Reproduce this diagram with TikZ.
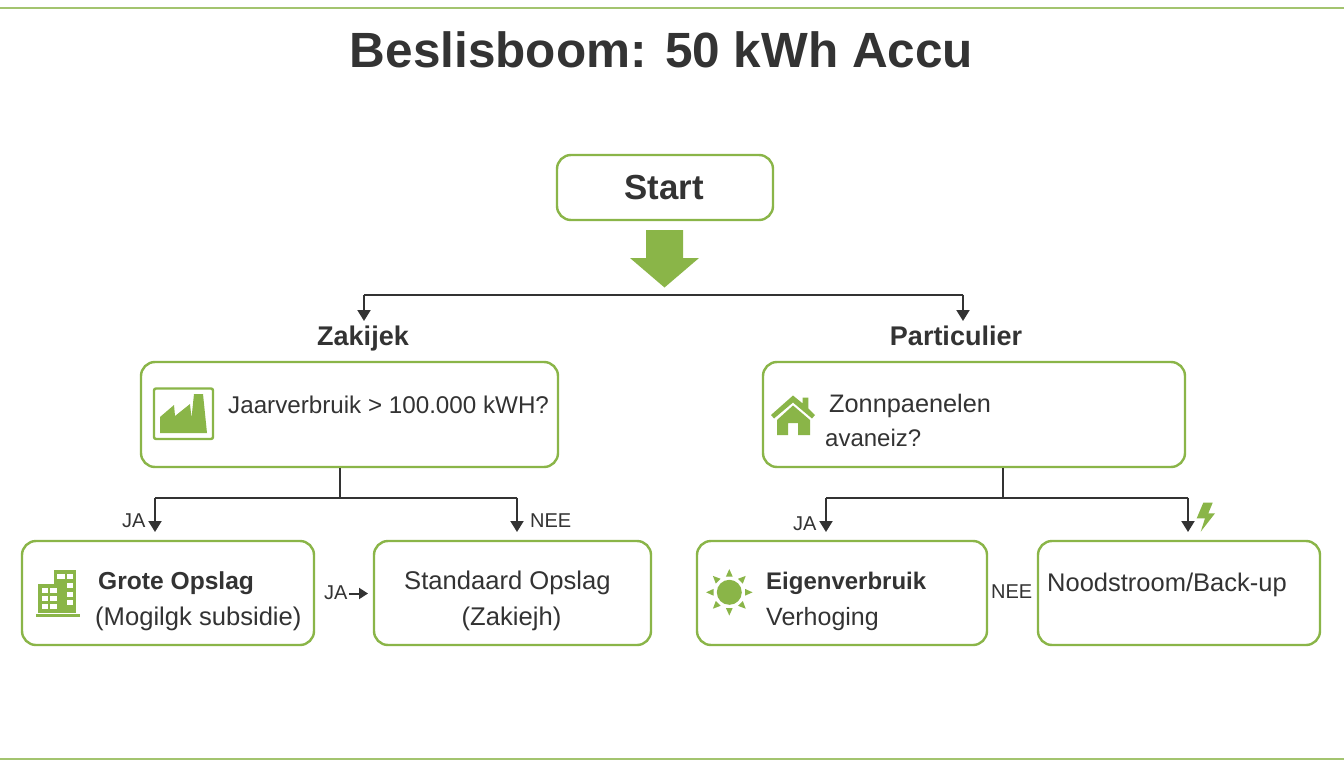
\documentclass[tikz,border=0pt]{standalone}
\usepackage{fontspec}
\setmainfont{Liberation Sans}
\usetikzlibrary{arrows.meta}
\definecolor{leaf}{HTML}{8AB548}
\definecolor{rulegreen}{HTML}{A3C46F}
\definecolor{ink}{HTML}{333333}
\newcommand{\fs}[1]{\fontsize{#1}{#1}\selectfont}
\tikzset{
  box/.style={draw=leaf,line width=2.4pt,rounded corners=14pt,fill=white,inner sep=0pt,text=ink},
  label/.style={inner sep=0pt,anchor=base west,text=ink,font=\fs{24}},
  wlabel/.style={inner sep=0pt,anchor=base west,text=ink,font=\fs{25.6}},
  blabel/.style={inner sep=0pt,anchor=base west,text=ink,font=\fs{24.6}\bfseries},
  head/.style={inner sep=0pt,anchor=base,text=ink,font=\fs{27}\bfseries},
  small/.style={inner sep=0pt,anchor=base west,text=ink,font=\fs{20}},
  wire/.style={draw=ink,line width=2pt},
  arrowwire/.style={wire,-{Triangle[length=11pt,width=13pt]}},
  icon/.style={fill=leaf,draw=none},
  hole/.style={fill=white,draw=none},
  rulebar/.style={draw=rulegreen,line width=2.6pt}
}
\begin{document}
\begin{tikzpicture}[x=1pt,y=-1pt]
\useasboundingbox (0,0) rectangle (1344,768);
\fill[white] (0,0) rectangle (1344,768);
\coordinate (tl) at (0,8); \coordinate (tr) at (1344,8);
\coordinate (bl) at (0,759); \coordinate (br) at (1344,759);
\draw[rulebar] (tl) -- (tr);
\draw[rulebar] (bl) -- (br);

\node[inner sep=0pt,anchor=base,text=ink,font=\fs{49.5}\bfseries] (title) at (661.5,68) {Beslisboom: 50 kWh Accu};

% boxes
\node[box,minimum width=216pt,minimum height=65pt,font=\fs{34.8}\bfseries] (start) at (665,187.5) {\kern-2pt Start};
\node[box,minimum width=417pt,minimum height=105pt] (zak) at (349.5,414.5) {};
\node[box,minimum width=422pt,minimum height=105pt] (par) at (974,414.5) {};
\node[box,minimum width=292pt,minimum height=104pt] (grote) at (168,593) {};
\node[box,minimum width=277pt,minimum height=104pt] (stand) at (512.5,593) {};
\node[box,minimum width=290pt,minimum height=104pt] (eigen) at (842,593) {};
\node[box,minimum width=282pt,minimum height=104pt] (nood) at (1179,593) {};

% big arrow
\fill[leaf] (646,230) -- (683,230) -- (683,258) -- (699,258) -- (664.5,287.5) -- (630,258) -- (646,258) -- cycle;

% headings
\node[head] (hzak) at (363,345.5) {Zakijek};
\node[head] (hpar) at (956,345.5) {Particulier};

% texts
\node[label,font=\fs{24.2}] (t1) at (228,413) {Jaarverbruik > 100.000 kWH?};
\node[wlabel,font=\fs{25.3}] (t2) at (829,412) {Zonnpaenelen};
\node[label] (t3) at (825,446) {avaneiz?};
\node[blabel] (t4) at (98,589) {Grote Opslag};
\node[wlabel] (t5) at (95,625) {(Mogilgk subsidie)};
\node[wlabel] (t6) at (404,589) {Standaard Opslag};
\node[wlabel,anchor=base] (t7) at (511.5,625) {(Zakiejh)};
\node[blabel,font=\fs{24}\bfseries] (t8) at (766,589) {Eigenverbruik};
\node[label,font=\fs{25}] (t9) at (766,625) {Verhoging};
\node[wlabel,font=\fs{25.5}] (t10) at (1047,591) {Noodstroom/Back-up};

% small labels
\node[small] (l1) at (122,527) {JA};
\node[small] (l2) at (530,527) {NEE};
\node[small] (l3) at (324,599) {JA};
\node[small] (l4) at (793,530) {JA};
\node[small] (l5) at (991,598) {NEE};

% connectors
\coordinate (busL) at (364,294.5);
\coordinate (busR) at (963,294.5);
\coordinate (endL) at (364,321);
\coordinate (endR) at (963,321);
\draw[wire] (busL) -- (busR);
\draw[arrowwire] (busL) -- (endL);
\draw[arrowwire] (busR) -- (endR);

\coordinate (zj) at (340,497.5);
\coordinate (zl) at (155,497.5);
\coordinate (zr) at (517,497.5);
\draw[wire] (zak.south -| zj) -- (zj);
\draw[wire] (zl) -- (zr);
\draw[arrowwire] (zl) -- (155,532);
\draw[arrowwire] (zr) -- (517,532);

\coordinate (pj) at (1003,497.5);
\coordinate (pl) at (826,497.5);
\coordinate (pr) at (1188,497.5);
\draw[wire] (par.south -| pj) -- (pj);
\draw[wire] (pl) -- (pr);
\draw[arrowwire] (pl) -- (826,532);
\draw[arrowwire] (pr) -- (1188,532);

\coordinate (ja1) at (349,593.5);
\coordinate (ja2) at (368,593.5);
\draw[wire,-{Triangle[length=9pt,width=11pt]}] (ja1) -- (ja2);

% factory icon
\draw[draw=leaf,line width=2.4pt,rounded corners=2pt] (154,388.5) rectangle (213,439);
\fill[icon] (160,417) -- (174,405) -- (175,416) -- (190,404) -- (191.5,418) -- (194,394) -- (203,394) -- (207,433) -- (160,433) -- cycle;

% building icon
\fill[icon] (38,584) rectangle (60,613);
\fill[icon] (54,570) rectangle (76,613);
\fill[icon] (36,614) rectangle (80,616.5);
\foreach \x in {41.7,50}{\foreach \y in {588,596,604}{\fill[hole] (\x,\y) rectangle ++(6.5,5);}}
\foreach \y in {574,582.5,591.5,599.5}{\fill[hole] (66.7,\y) rectangle ++(6.3,5);}
\fill[hole] (57,574) rectangle ++(8,5);

% sun icon
\fill[icon] (729.3,592.3) circle (12.5);
\foreach \a in {0,45,...,315}{
  \fill[icon,rotate around={\a:(729.3,592.3)}] (745,588.9) -- (752.5,592.3) -- (745,595.7) -- cycle;
}

% house icon
\fill[icon] (793,395.5) -- (802.7,403.5) -- (802.7,397.7) -- (808.3,397.7) -- (808.3,408.5) -- (815,415) -- (812,418.5) -- (793,402.5) -- (774,418.5) -- (771,415) -- cycle;
\fill[icon] (793,405.5) -- (810,420) -- (810,435) -- (798,435) -- (798,423) -- (788,423) -- (788,435) -- (777,435) -- (777,420) -- cycle;

% bolt icon
\fill[icon] (1203.3,502.7) -- (1212.7,502.7) -- (1208.3,513.3) -- (1215,513.3) -- (1200.7,531.7) -- (1205,518.3) -- (1196.7,518.3) -- cycle;
\end{tikzpicture}
\end{document}
